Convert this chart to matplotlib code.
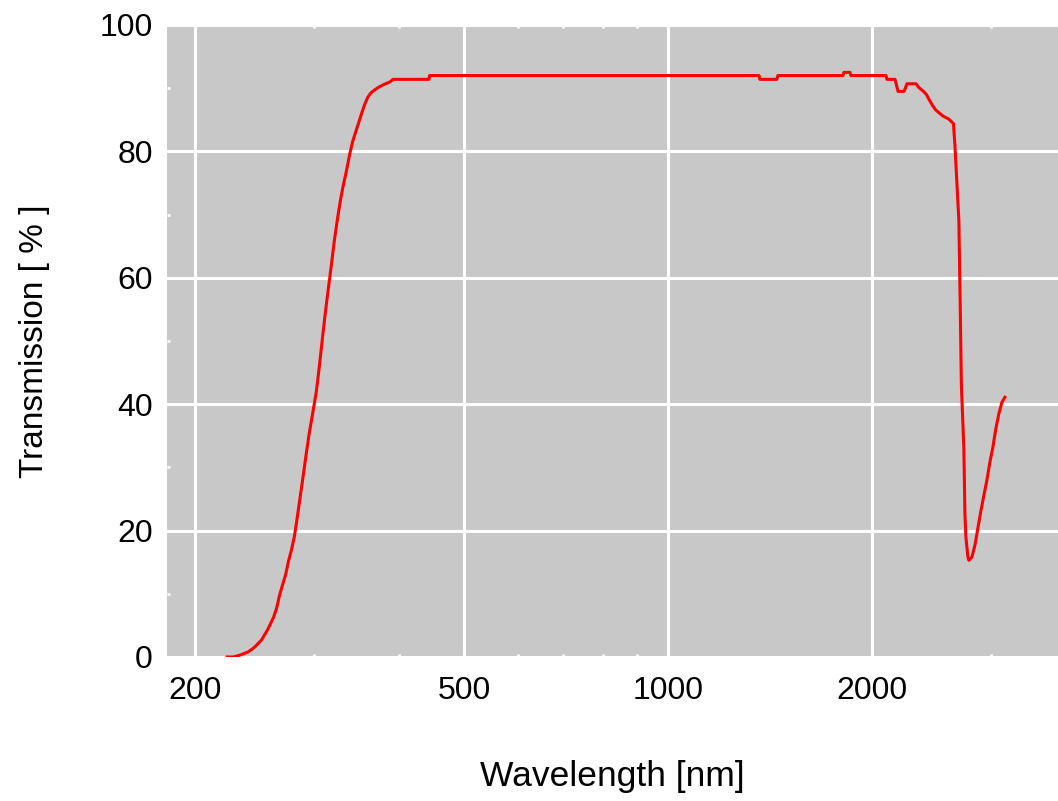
import matplotlib

matplotlib.use("Agg")

import matplotlib.pyplot as plt
from matplotlib.ticker import FixedLocator, NullFormatter

# 透过率曲线 (波长 nm, 透过率 %)
wavelength = [
    223.0, 227.6, 233.1, 239.5, 243.2, 245.7, 248.2, 250.8, 253.3, 255.9,
    258.6, 261.2, 263.9, 266.6, 269.3, 272.1, 274.7, 277.5, 280.4, 283.2,
    286.1, 289.1, 292.0, 295.0, 298.3, 302.1, 305.2, 308.4, 311.5, 314.7,
    318.0, 321.2, 324.5, 327.8, 331.2, 334.8, 338.3, 341.7, 345.2, 348.8,
    352.4, 356.0, 359.6, 363.3, 367.0, 372.7, 380.4, 388.2, 392.2, 443.3,
    444.0, 1362, 1366, 1447, 1452, 1812, 1818, 1856, 1862, 2098,
    2105, 2163, 2174, 2185, 2230, 2241, 2253, 2323, 2346, 2383,
    2407, 2432, 2457, 2482, 2507, 2546, 2598, 2639, 2652, 2673,
    2688, 2700, 2711, 2734, 2744, 2753, 2772, 2781, 2810, 2839,
    2868, 2898, 2927, 2957, 2987, 3018, 3049, 3080, 3112, 3144,
]
transmission = [
    0.0, 0.0, 0.3, 0.8, 1.3, 1.7, 2.2, 2.7, 3.5, 4.3,
    5.3, 6.3, 7.7, 9.8, 11.4, 13.0, 15.1, 16.9, 19.1, 22.2,
    25.5, 28.9, 32.3, 35.5, 38.5, 42.0, 46.0, 50.4, 54.5, 58.3,
    62.1, 65.9, 69.2, 72.2, 74.7, 77.0, 79.5, 81.5, 83.0, 84.5,
    86.0, 87.4, 88.5, 89.2, 89.6, 90.1, 90.6, 91.0, 91.4, 91.4,
    92.0, 92.0, 91.4, 91.4, 92.0, 92.0, 92.5, 92.5, 92.0, 92.0,
    91.4, 91.4, 90.5, 89.5, 89.5, 90.0, 90.7, 90.7, 90.1, 89.5,
    89.0, 88.1, 87.3, 86.6, 86.2, 85.6, 85.1, 84.4, 81.0, 74.0,
    69.0, 56.0, 43.0, 33.0, 22.6, 19.0, 15.8, 15.3, 15.8, 17.7,
    20.4, 23.2, 25.6, 28.0, 30.8, 33.2, 36.2, 38.5, 40.3, 41.1,
]

x_major = [200, 500, 1000, 2000]
x_minor = [300, 400, 600, 700, 800, 900, 3000]
y_major = [0, 20, 40, 60, 80, 100]
y_minor = [10, 30, 50, 70, 90]

plt.rcParams["font.family"] = ["Liberation Sans", "DejaVu Sans"]

fig = plt.figure(figsize=(10.58, 8.01), dpi=100)
ax = fig.add_axes([0.1576, 0.1798, 0.8424, 0.7890])
ax.set_facecolor("#c8c8c8")

# 曲线
ax.plot(wavelength, transmission, "-", color="#ff0000", linewidth=2.2, zorder=3)

ax.set_xscale("log")
ax.set_xlim(181.6, 3766)
ax.set_ylim(0, 100)

ax.xaxis.set_major_locator(FixedLocator(x_major))
ax.xaxis.set_minor_locator(FixedLocator(x_minor))
ax.xaxis.set_minor_formatter(NullFormatter())
ax.set_xticklabels([str(v) for v in x_major])
ax.yaxis.set_major_locator(FixedLocator(y_major))
ax.yaxis.set_minor_locator(FixedLocator(y_minor))

for s in ax.spines.values():
    s.set_visible(False)

# 白色网格
ax.grid(which="major", color="white", linewidth=2.2, zorder=1)
ax.set_axisbelow(True)

ax.tick_params(which="major", length=0, labelsize=23, colors="black")
ax.tick_params(axis="x", which="major", pad=14)
ax.tick_params(axis="y", which="major", pad=10)
ax.tick_params(which="minor", direction="in", color="white", length=2.5, width=2)
ax.tick_params(axis="x", which="minor", top=True)

ax.set_xlabel("Wavelength [nm]", fontsize=25.5)
ax.set_ylabel("Transmission [ % ]", fontsize=24)
ax.xaxis.set_label_coords(0.5, -0.163)
ax.yaxis.set_label_coords(-0.131, 0.5)

plt.savefig("out.png", dpi=100)
print("save plot image to: out.png")
